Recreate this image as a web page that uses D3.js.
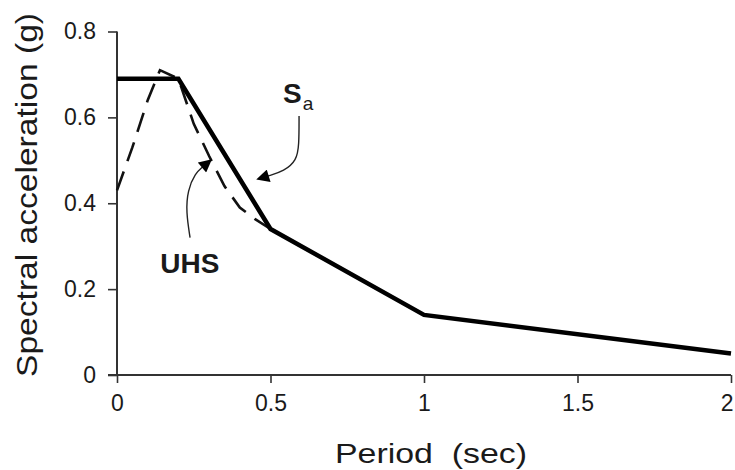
<!DOCTYPE html>
<html>
<head>
<meta charset="utf-8">
<script src="https://cdn.jsdelivr.net/npm/d3@7"></script>
<style>
  body { margin: 0; background: #fff; }
  text { font-family: Arial, "Liberation Sans", sans-serif; fill: #1a1a1a; }
</style>
</head>
<body>
<div id="chart"></div>
<script>
// Sa design spectrum (solid) and uniform hazard spectrum (dashed)
var saPeriod = [0, 0.2, 0.5, 1, 2];
var saValue  = [0.69, 0.69, 0.34, 0.14, 0.05];

var uhsPeriod = [0, 0.05, 0.1, 0.14, 0.2, 0.25, 0.3, 0.35, 0.4, 0.45, 0.5];
var uhsValue  = [0.43, 0.53, 0.64, 0.71, 0.69, 0.585, 0.51, 0.44, 0.39, 0.363, 0.34];

var xTicks = [0, 0.5, 1, 1.5, 2];
var yTicks = [0, 0.2, 0.4, 0.6, 0.8];
var xTickLabels = ["0", "0.5", "1", "1.5", "2"];
var yTickLabels = ["0", "0.2", "0.4", "0.6", "0.8"];

// annotation arrows, in data units (period, g)
var saArrow  = [[0.593, 0.603], [0.593, 0.535], [0.585, 0.50], [0.545, 0.475], [0.49, 0.463]];
var uhsArrow = [[0.238, 0.32], [0.225, 0.38], [0.23, 0.43], [0.255, 0.47], [0.28, 0.485]];

var fullwidth = 735, fullheight = 470;
var margin = {top: 31.5, right: 4, bottom: 95, left: 117};
var width = fullwidth - margin.left - margin.right;
var height = fullheight - margin.top - margin.bottom;

var svg = d3.select("#chart").append("svg")
    .attr("width", fullwidth)
    .attr("height", fullheight)
    .append("g")
    .attr("transform", "translate(" + margin.left + "," + margin.top + ")");

var xScale = d3.scaleLinear().domain([0, 2]).range([0, width]);
var yScale = d3.scaleLinear().domain([0, 0.8]).range([height, 0]);

// axes
var xAxis = d3.axisBottom(xScale).tickValues(xTicks)
    .tickFormat(function(d, i) { return xTickLabels[i]; })
    .tickSizeInner(8).tickSizeOuter(0).tickPadding(12);
var yAxis = d3.axisLeft(yScale).tickValues(yTicks)
    .tickFormat(function(d, i) { return yTickLabels[i]; })
    .tickSizeInner(9).tickSizeOuter(0).tickPadding(12);

var gx = svg.append("g")
    .attr("transform", "translate(0," + height + ")")
    .call(xAxis);
var gy = svg.append("g").call(yAxis);

[gx, gy].forEach(function(g) {
    g.select(".domain").attr("stroke", "#333").attr("stroke-width", 2);
    g.selectAll(".tick line").attr("stroke", "#333").attr("stroke-width", 1.6);
    g.selectAll(".tick text").attr("font-size", 23).attr("fill", "#1a1a1a")
        .attr("font-family", "Arial, 'Liberation Sans', sans-serif");
});
gy.select(".domain").attr("d", "M0," + height + "V0");
gx.select(".domain").attr("d", "M-9,0H" + width);
// last x label sits against the right edge
gx.selectAll(".tick text").filter(function(d) { return d === 2; })
    .attr("text-anchor", "end").attr("dx", 2);

// axis titles
svg.append("text")
    .attr("transform", "translate(" + (37 - margin.left) + "," + (195 - margin.top) + ") rotate(-90)")
    .attr("text-anchor", "middle")
    .attr("font-size", 30)
    .attr("textLength", 364)
    .attr("lengthAdjust", "spacingAndGlyphs")
    .text("Spectral acceleration (g)");

svg.append("text")
    .attr("x", 431 - margin.left)
    .attr("y", 463 - margin.top)
    .attr("text-anchor", "middle")
    .attr("font-size", 28)
    .attr("textLength", 192)
    .attr("lengthAdjust", "spacingAndGlyphs")
    .style("white-space", "pre")
    .text("Period  (sec)");

// curves
var line = d3.line()
    .x(function(d) { return xScale(d[0]); })
    .y(function(d) { return yScale(d[1]); });

var uhs = uhsPeriod.map(function(p, i) { return [p, uhsValue[i]]; });
var sa = saPeriod.map(function(p, i) { return [p, saValue[i]]; });

svg.append("path")
    .datum(uhs)
    .attr("d", line)
    .attr("fill", "none")
    .attr("stroke", "#111")
    .attr("stroke-width", 2.6)
    .attr("stroke-dasharray", "20,11");

svg.append("path")
    .datum(sa)
    .attr("d", line)
    .attr("fill", "none")
    .attr("stroke", "#000")
    .attr("stroke-width", 4.5)
    .attr("stroke-linejoin", "miter");

// arrow marker
svg.append("defs").append("marker")
    .attr("id", "head")
    .attr("viewBox", "0 0 10 10")
    .attr("refX", 1).attr("refY", 5)
    .attr("markerWidth", 14).attr("markerHeight", 13)
    .attr("markerUnits", "userSpaceOnUse")
    .attr("orient", "auto")
    .append("path")
    .attr("d", "M0,0L10,5L0,10Z")
    .attr("fill", "#000");

var curve = d3.line()
    .x(function(d) { return xScale(d[0]); })
    .y(function(d) { return yScale(d[1]); })
    .curve(d3.curveBasis);

[saArrow, uhsArrow].forEach(function(a) {
    svg.append("path")
        .datum(a)
        .attr("d", curve)
        .attr("fill", "none")
        .attr("stroke", "#222")
        .attr("stroke-width", 1.4)
        .attr("marker-end", "url(#head)");
});

// labels
var sLabel = svg.append("text")
    .attr("x", xScale(0.541))
    .attr("y", yScale(0.633))
    .attr("font-size", 28)
    .attr("font-weight", "bold");
sLabel.append("tspan").text("S");
sLabel.append("tspan").attr("dy", 7).attr("dx", 1).attr("font-size", 19).attr("font-weight", "normal").text("a");

svg.append("text")
    .attr("x", xScale(0.141))
    .attr("y", yScale(0.237))
    .attr("font-size", 28)
    .attr("font-weight", "bold")
    .text("UHS");
</script>
</body>
</html>
